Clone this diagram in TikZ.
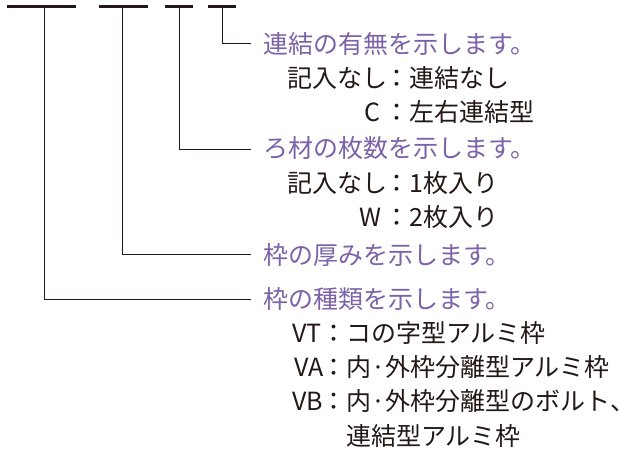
\documentclass[tikz,border=0pt]{standalone}
\usepackage{fontspec}
\setmainfont{Noto Sans CJK JP}
\definecolor{ink}{RGB}{35,24,21}
\definecolor{headc}{RGB}{124,98,168}
\tikzset{
  barnode/.style={fill=ink, draw=none, inner sep=0pt, minimum height=3pt},
  lead/.style={line width=1pt, draw=ink},
  txt/.style={inner sep=0pt, font=\fontsize{25}{30}\selectfont},
  head/.style={txt, anchor=base west, text=headc},
  val/.style={txt, anchor=base west, text=ink},
  keyt/.style={txt, anchor=base east, text=ink},
  colont/.style={txt, anchor=base, text=ink},
}
\begin{document}
\begin{tikzpicture}[x=1pt,y=-1pt]
\useasboundingbox (0,0) rectangle (619,450);
% code bars
\node[barnode, minimum width=69pt] (b1) at (41.5,6) {};
\node[barnode, minimum width=49pt] (b2) at (123.5,6) {};
\node[barnode, minimum width=28pt] (b3) at (179,6) {};
\node[barnode, minimum width=28pt] (b4) at (222,6) {};
\coordinate (t1) at (44,6);
\coordinate (t2) at (122,6);
\coordinate (t3) at (179,6);
\coordinate (t4) at (222,6);
% ends of leaders
\coordinate (e4) at (251,43);
\coordinate (e3) at (251,149);
\coordinate (e2) at (251,254);
\coordinate (e1) at (251,299);
\draw[lead] (t4) |- (e4);
\draw[lead] (t3) |- (e3);
\draw[lead] (t2) |- (e2);
\draw[lead] (t1) |- (e1);
% group 1
\node[head] (h1) at (263,53.5) {連結の有無を示します。};
\node[keyt] (k11) at (388,87) {記入なし};
\node[colont] (c11) at (397,87) {：};
\node[val] (v11) at (409,87) {連結なし};
\node[keyt] (k12) at (381,121.5) {C};
\node[colont] (c12) at (397,121.5) {：};
\node[val] (v12) at (409,121.5) {左右連結型};
% group 2
\node[head] (h2) at (263,157.5) {ろ材の枚数を示します。};
\node[keyt] (k21) at (388,192.5) {記入なし};
\node[colont] (c21) at (397,192.5) {：};
\node[val] (v21) at (409,192.5) {1枚入り};
\node[keyt] (k22) at (382,226.5) {W};
\node[colont] (c22) at (397,226.5) {：};
\node[val] (v22) at (409,226.5) {2枚入り};
% group 3
\node[head] (h3) at (263,264.5) {枠の厚みを示します。};
% group 4
\node[head] (h4) at (263,308.5) {枠の種類を示します。};
\node[keyt] (k41) at (322,342.5) {VT};
\node[colont] (c41) at (334,342.5) {：};
\node[val] (v41) at (346,342.5) {コの字型アルミ枠};
\node[keyt] (k42) at (324,376.5) {VA};
\node[colont] (c42) at (334,376.5) {：};
\node[val] (v42) at (346,376.5) {内·外枠分離型アルミ枠};
\node[keyt] (k43) at (323,410.5) {VB};
\node[colont] (c43) at (334,410.5) {：};
\node[val] (v43) at (346,410.5) {内·外枠分離型のボルト\makebox[0.4em][l]{、}};
\node[val] (v44) at (346,445) {連結型アルミ枠};
\end{tikzpicture}
\end{document}
